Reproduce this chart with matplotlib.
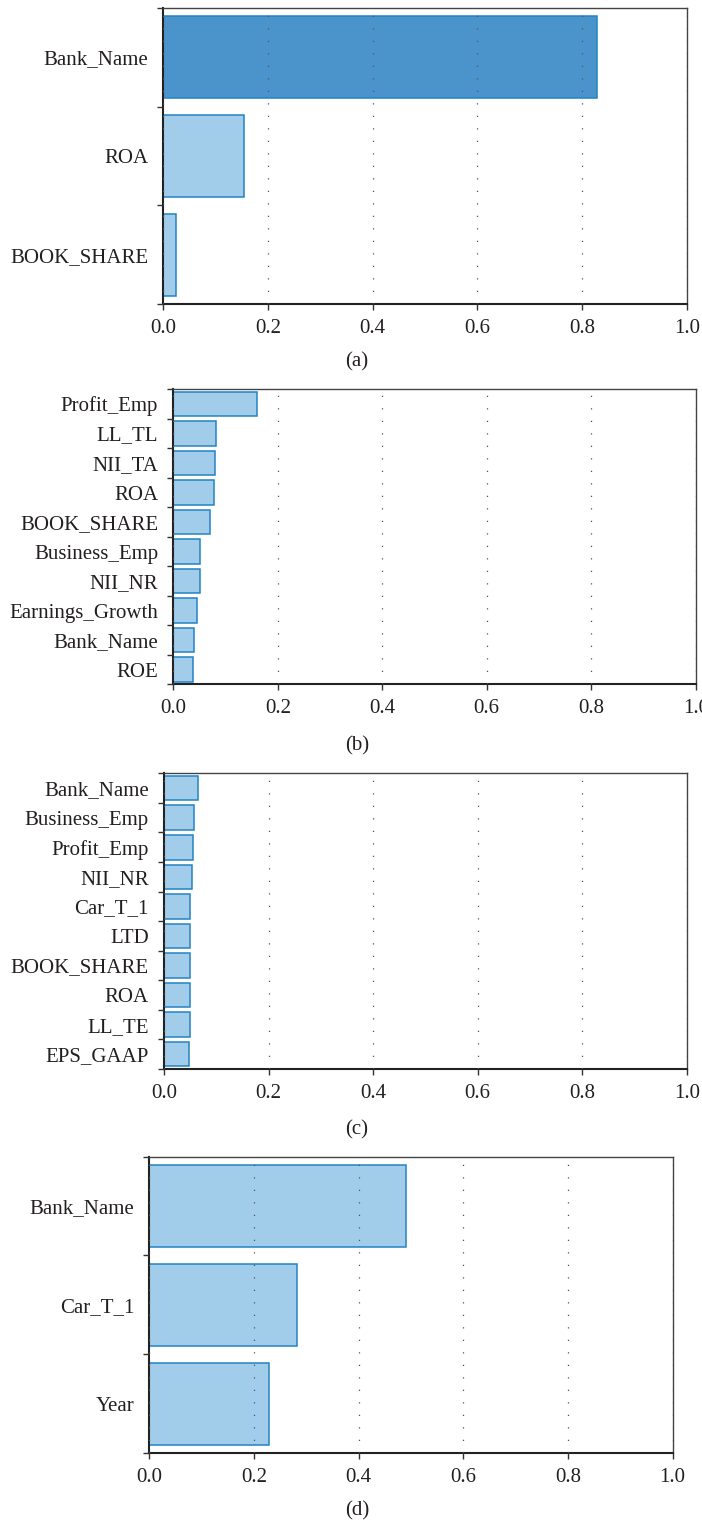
import numpy as np
import matplotlib.pyplot as plt

plt.rcParams["font.family"] = ["Liberation Serif", "DejaVu Serif"]
plt.rcParams["font.size"] = 15
plt.rcParams["text.color"] = "#231f20"

# feature importances, listed top to bottom
a_features = ["Bank_Name", "ROA", "BOOK_SHARE"]
a_values = [0.828, 0.153, 0.024]

b_features = ["Profit_Emp", "LL_TL", "NII_TA", "ROA", "BOOK_SHARE",
              "Business_Emp", "NII_NR", "Earnings_Growth", "Bank_Name", "ROE"]
b_values = [0.161, 0.081, 0.080, 0.0786, 0.071, 0.052, 0.052, 0.046, 0.040, 0.038]

c_features = ["Bank_Name", "Business_Emp", "Profit_Emp", "NII_NR", "Car_T_1",
              "LTD", "BOOK_SHARE", "ROA", "LL_TE", "EPS_GAAP"]
c_values = [0.066, 0.057, 0.056, 0.0535, 0.050, 0.0497, 0.049, 0.049, 0.049, 0.0484]

d_features = ["Bank_Name", "Car_T_1", "Year"]
d_values = [0.490, 0.282, 0.229]

xticks = [0.0, 0.2, 0.4, 0.6, 0.8, 1.0]

LIGHT = "#a1cdeb"
DARK = "#4b93cb"
EDGE = "#2283c3"
INK = "#231f20"

W, H = 702, 1526
fig = plt.figure(figsize=(W / 100, H / 100), dpi=100)

# (features, values, highlighted bar, axes rect, caption, caption y px)
panels = [
    (a_features, a_values, 0, [0.2329, 0.8008, 0.7453, 0.1940], "(a)", 362),
    (b_features, b_values, None, [0.2469, 0.5516, 0.7441, 0.1933], "(b)", 746),
    (c_features, c_values, None, [0.2336, 0.2995, 0.7446, 0.1937], "(c)", 1130),
    (d_features, d_values, None, [0.2127, 0.0478, 0.7453, 0.1942], "(d)", 1511),
]

for feats, vals, hl, rect, caption, cap_y in panels:
    ax = fig.add_axes(rect)
    n = len(feats)
    pos = np.arange(n)
    colors = [DARK if i == hl else LIGHT for i in range(n)]
    ax.barh(pos, vals, height=0.83, color=colors, edgecolor=EDGE,
            linewidth=1.1, zorder=1)

    ax.set_xlim(0, 1)
    ax.set_ylim(n - 0.5, -0.5)

    # ticks sit on the category boundaries, labels at the bar centres
    ax.set_yticks(np.arange(n + 1) - 0.5)
    ax.set_yticklabels([])
    ax.set_yticks(pos, minor=True)
    ax.set_yticklabels(feats, minor=True)
    ax.tick_params(axis="y", which="major", length=4.5, width=1.0,
                   color="#333333", direction="out")
    ax.tick_params(axis="y", which="minor", length=0, pad=11, labelcolor=INK)

    ax.set_xticks(xticks)
    ax.set_xticklabels([f"{t:.1f}" for t in xticks])
    ax.tick_params(axis="x", length=4.5, width=1.0, color="#333333",
                   direction="out", pad=6, labelcolor=INK)

    ax.grid(axis="x", color="#555555", linewidth=0.9,
            linestyle=(0, (1, 9)), zorder=3)
    ax.set_axisbelow(False)

    for side in ["left", "bottom"]:
        ax.spines[side].set_linewidth(1.5)
        ax.spines[side].set_color("#222222")
    for side in ["top", "right"]:
        ax.spines[side].set_linewidth(1.0)
        ax.spines[side].set_color("#444444")

    fig.text(357 / W, 1 - cap_y / H, caption, ha="center", va="center",
             color=INK)

fig.savefig("out.png", dpi=100)
